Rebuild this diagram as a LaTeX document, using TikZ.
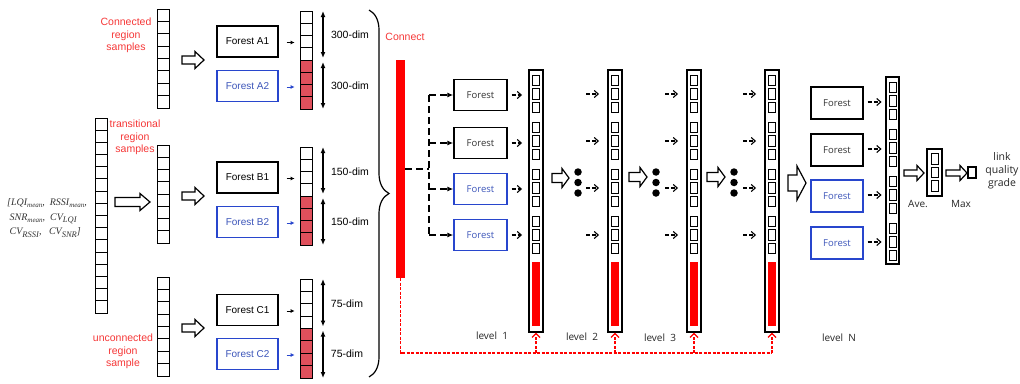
\documentclass[tikz,border=0pt]{standalone}
\usepackage{fontspec}
\setmainfont{Liberation Sans}
\newfontfamily\segoe{Open Sans}
\newfontfamily\tnr{Liberation Serif}
\usetikzlibrary{arrows.meta,decorations.pathreplacing,calc}
\definecolor{redtxt}{RGB}{245,55,55}
\definecolor{cellred}{RGB}{224,80,92}
\definecolor{bluebox}{RGB}{40,70,205}
\definecolor{bluetxt}{RGB}{60,85,185}
\newcommand\levelcol[2]{%
  \node[lvlouter] (#1) at (#2,201) {};
  \foreach \g/\yc in {1/94,2/141,3/188,4/235}{%
    \foreach \k in {1,2,3}{\node[sq] (#1-\g-\k) at (#2,{\yc+13.5*(\k-2)}) {};}}
  \node[fill=red, minimum width=8pt, minimum height=64pt, inner sep=0pt] (#1-r) at (#2,294) {};
}
\newcommand\subm[1]{\raisebox{-2pt}{\fontsize{7}{7}\selectfont #1}}
\newcommand\subc[1]{\raisebox{-2.5pt}{\fontsize{8.5}{8.5}\selectfont #1}}
\begin{document}
\begin{tikzpicture}[x=1pt,y=-1pt,
  cell/.style={draw, line width=1pt, minimum width=12pt, minimum height=12.25pt, inner sep=0pt, outer sep=0pt},
  redcell/.style={cell, fill=cellred},
  fbox/.style={draw, line width=1.3pt, minimum width=61pt, minimum height=31pt, inner sep=0pt, font=\fontsize{10}{12}\selectfont},
  fboxblue/.style={fbox, draw=bluebox, text=bluetxt},
  lbox/.style={draw, line width=1.3pt, minimum width=53pt, minimum height=31pt, inner sep=0pt, font=\segoe\fontsize{9.5}{11}\selectfont, text=black!80},
  lboxblue/.style={lbox, draw=bluebox, text=bluetxt},
  lvlouter/.style={draw, line width=1.3pt, minimum width=14pt, minimum height=262pt, inner sep=0pt},
  sq/.style={draw, line width=0.9pt, minimum width=7pt, minimum height=10.5pt, inner sep=0pt},
  redlbl/.style={text=redtxt, align=center, font=\fontsize{10.5}{12.5}\selectfont},
  dimlbl/.style={font=\fontsize{10.5}{12}\selectfont},
  lvllbl/.style={font=\segoe\fontsize{10}{12}\selectfont, text=black!85},
  dimarrow/.style={line width=1.2pt, {Latex[length=6pt,width=5pt]}-{Latex[length=6pt,width=5pt]}},
  smallarrow/.style={line width=1pt, -{Latex[length=4pt,width=4pt]}},
  dasharrow/.style={line width=1.1pt, dash pattern=on 4pt off 2pt, -{Straight Barb[length=4pt,width=7pt]}},
  treeline/.style={line width=1.5pt, dash pattern=on 7pt off 4pt},
  feedback/.style={red, line width=1.2pt, dash pattern=on 3pt off 1.5pt},
  harrowline/.style={line width=1.2pt, fill=white, line join=miter},
  pics/harrow/.style n args={4}{code={%
    \draw[harrowline] (0,-#2) -- ({#1-#4},-#2) -- ({#1-#4},-#3) -- (#1,0) -- ({#1-#4},#3) -- ({#1-#4},#2) -- (0,#2) -- cycle;}},
  dot/.style={circle, fill=black, minimum size=7.5pt, inner sep=0pt}
]
\useasboundingbox (0,0) rectangle (1020,383);

% ---------- input columns ----------
\foreach \i in {1,...,16}{\node[cell, minimum height=12.19pt] (T-\i) at (101,{118+12.19*(\i-0.5)}) {};}
\foreach \i in {1,...,8}{\node[cell, minimum height=12.375pt] (iA-\i) at (163,{9+12.375*(\i-0.5)}) {};}
\foreach \i in {1,...,8}{\node[cell] (iB-\i) at (163,{145+12.25*(\i-0.5)}) {};}
\foreach \i in {1,...,8}{\node[cell, minimum height=12.375pt] (iC-\i) at (163,{277+12.375*(\i-0.5)}) {};}

\node[redlbl] (lA) at (126,35.5) {Connected\\region\\samples};
\node[redlbl] (lB) at (135,137.5) {transitional\\region\\samples};
\node[redlbl] (lC) at (123,351.5) {unconnected\\region\\sample};

\node[font=\tnr\itshape\fontsize{10}{14.5}\selectfont, text=black!80, align=left, anchor=west, inner sep=0pt] (feat) at (7,218)
  {[LQI\subm{mean}, \ RSSI\subm{mean},\\
   \hspace{2.5pt}SNR\subm{mean}, \ CV\subc{LQI}\\
   \hspace{2.5pt}CV\subc{RSSI}, \ \ CV\subc{SNR}]};

\pic at (115,202) {harrow={35}{4.5}{8.5}{10}};
\pic at (182,60) {harrow={22}{4}{8.5}{9}};
\pic at (182,196) {harrow={22}{4}{8.5}{9}};
\pic at (182,328) {harrow={22}{4}{8.5}{9}};

% ---------- first-stage forests ----------
\node[fbox] (A1) at (247.5,41.5) {Forest A1};
\node[fboxblue] (A2) at (247.5,86) {Forest A2};
\node[fbox] (B1) at (247.5,177.5) {Forest B1};
\node[fboxblue] (B2) at (247.5,222) {Forest B2};
\node[fbox] (C1) at (247.5,310) {Forest C1};
\node[fboxblue] (C2) at (247.5,354) {Forest C2};

\foreach \i in {1,...,4}{\node[cell] (oA-\i) at (306,{11+12.25*(\i-0.5)}) {};}
\foreach \i in {5,...,8}{\node[redcell] (oA-\i) at (306,{11+12.25*(\i-0.5)}) {};}
\foreach \i in {1,...,4}{\node[cell] (oB-\i) at (306,{147+12.25*(\i-0.5)}) {};}
\foreach \i in {5,...,8}{\node[redcell] (oB-\i) at (306,{147+12.25*(\i-0.5)}) {};}
\foreach \i in {1,...,4}{\node[cell, minimum height=12.375pt] (oC-\i) at (306,{279+12.375*(\i-0.5)}) {};}
\foreach \i in {5,...,8}{\node[redcell, minimum height=12.375pt] (oC-\i) at (306,{279+12.375*(\i-0.5)}) {};}

\foreach \f/\c in {A1/black,B1/black,C1/black,A2/bluebox,B2/bluebox,C2/bluebox}{%
  \draw[smallarrow, \c] ($(\f.east)+(8,1)$) -- ($(\f.east)+(16,1)$);}

\foreach \s in {A,B,C}{%
  \draw[dimarrow] ($(o\s-1.north east)+(11,0)$) -- ($(o\s-4.south east)+(11,-2)$);
  \draw[dimarrow] ($(o\s-5.north east)+(11,2)$) -- ($(o\s-8.south east)+(11,0)$);}

\node[dimlbl] (dA1) at (350,35) {300-dim};
\node[dimlbl] (dA2) at (350,86) {300-dim};
\node[dimlbl] (dB1) at (350,172) {150-dim};
\node[dimlbl] (dB2) at (350,222) {150-dim};
\node[dimlbl] (dC1) at (347,304) {75-dim};
\node[dimlbl] (dC2) at (347,354) {75-dim};

\draw[line width=1.2pt, decorate, decoration={brace, amplitude=20pt, aspect=0.5}] (369,10) -- (369,377);

% ---------- connect ----------
\node[text=redtxt, font=\fontsize{10.5}{12}\selectfont] (conn) at (405,37) {Connect};
\node[fill=red, minimum width=9pt, minimum height=218pt, inner sep=0pt] (bar) at (400.5,169) {};

\node[lbox] (F1) at (480.5,95) {Forest};
\node[lbox] (F2) at (480.5,143) {Forest};
\node[lboxblue] (F3) at (480.5,189) {Forest};
\node[lboxblue] (F4) at (480.5,235) {Forest};

\coordinate (tx) at (429,169);
\draw[treeline] (bar.east) -- (tx);
\draw[treeline] (tx |- F1.west) -- (tx |- F4.west);
\foreach \f in {F1,F2,F3,F4}{\draw[treeline, -{Latex[length=6pt,width=5pt]}] (tx |- \f.west) -- (\f.west);}

% ---------- level columns ----------
\levelcol{L1}{536}
\levelcol{L2}{615}
\levelcol{L3}{694}
\levelcol{L4}{772}

\foreach \g/\f in {1/F1,2/F2,3/F3,4/F4}{\draw[dasharrow] ($(\f.east)+(4,0)$) -- ($(L1-\g-2.west |- \f.east)+(-10,0)$);}
\foreach \L in {L2,L3,L4}{\foreach \g in {1,2,3,4}{\draw[dasharrow] ($(\L-\g-2.west)+(-25,0)$) -- ($(\L-\g-2.west)+(-12,0)$);}}

\pic at (552,178) {harrow={17}{4.5}{9.5}{7}};
\pic at (629,177) {harrow={18}{4.5}{9.5}{7}};
\pic at (707,177) {harrow={18}{4.5}{9.5}{7}};
\pic at (788,183) {harrow={18}{8}{17}{9}};

\foreach \x/\n in {578/a,656/b,734/c}{%
  \node[dot] (d\n1) at (\x,172) {};
  \node[dot] (d\n2) at (\x,182.5) {};
  \node[dot] (d\n3) at (\x,193) {};}

% ---------- final level ----------
\node[lbox, minimum width=52pt, minimum height=32pt] (G1) at (837,103) {Forest};
\node[lbox, minimum width=52pt, minimum height=32pt] (G2) at (837,150) {Forest};
\node[lboxblue, minimum width=52pt, minimum height=32pt] (G3) at (837,196) {Forest};
\node[lboxblue, minimum width=52pt, minimum height=32pt] (G4) at (837,243) {Forest};

\node[lvlouter, minimum height=187pt, minimum width=13pt] (LF) at (892.5,170.5) {};
\foreach \g/\yc in {1/101,2/148,3/195,4/242}{%
  \foreach \k in {1,2,3}{\node[sq] (LF-\g-\k) at (892.5,{\yc+13.5*(\k-2)}) {};}}
\foreach \g in {1,2,3,4}{\draw[dasharrow] ($(G\g.east)+(4,-1)$) -- ($(LF-\g-2.west |- G\g.east)+(-7,-1)$);}

\pic at (904,173) {harrow={20}{3}{7.5}{7}};
\node[lvlouter, minimum height=47pt, minimum width=15pt] (AV) at (934.5,172.5) {};
\foreach \k in {1,2,3}{\node[sq] (AV-\k) at (934.5,{172.5+13.5*(\k-2)}) {};}
\pic at (946,173) {harrow={21}{3}{7.5}{7}};
\node[draw, line width=1.1pt, minimum width=8pt, minimum height=11pt, inner sep=0pt] (MX) at (972,172.5) {};

\node[lvllbl] (ave) at (918,204) {Ave.};
\node[lvllbl] (max) at (961,204) {Max};
\node[lvllbl, align=center, font=\segoe\fontsize{10.5}{13}\selectfont] (lqg) at (1002,171) {link\\quality\\grade};

% ---------- level labels ----------
\node[lvllbl] (lv1) at (492,336) {level\ \ 1};
\node[lvllbl] (lv2) at (582,337) {level\ \ 2};
\node[lvllbl] (lv3) at (660,338) {level\ \ 3};
\node[lvllbl] (lvN) at (839,338) {level\ \ N};

% ---------- feedback ----------
\coordinate (fb) at (400.5,353);
\draw[feedback] (bar.south) -- (fb) -- (fb -| L4.south);
\foreach \L in {L1,L2,L3,L4}{\draw[feedback, -{Straight Barb[length=4pt,width=8pt]}] (fb -| \L.south) -- (\L.south);}
\end{tikzpicture}
\end{document}
